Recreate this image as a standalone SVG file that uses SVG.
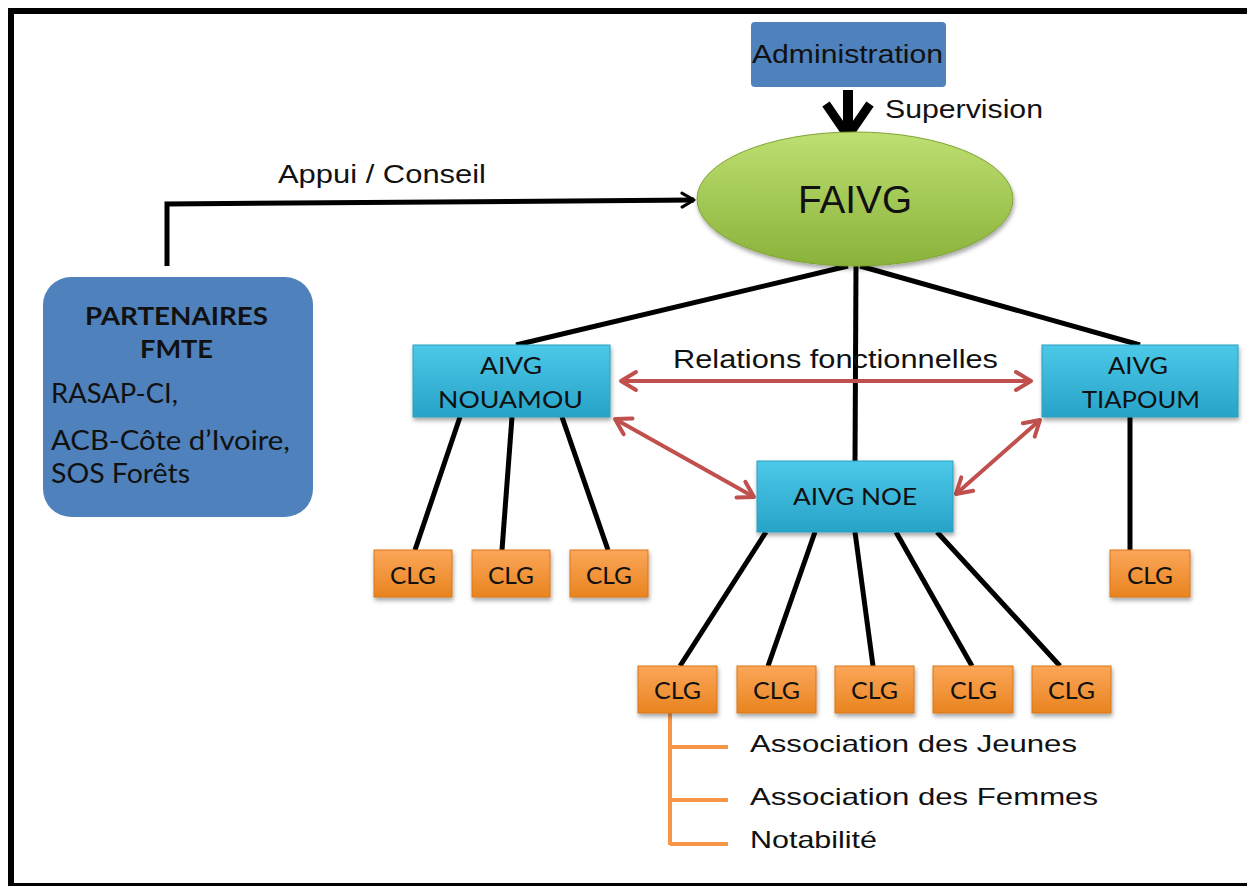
<svg xmlns="http://www.w3.org/2000/svg" width="1247" height="886" viewBox="0 0 1247 886">
<defs>
<linearGradient id="gCyan" x1="0" y1="0" x2="0" y2="1"><stop offset="0" stop-color="#4cc8e8"/><stop offset="1" stop-color="#27a3c8"/></linearGradient>
<linearGradient id="gOrange" x1="0" y1="0" x2="0" y2="1"><stop offset="0" stop-color="#fba659"/><stop offset="1" stop-color="#e9841f"/></linearGradient>
<linearGradient id="gGreen" x1="0" y1="0" x2="0" y2="1"><stop offset="0" stop-color="#bedf72"/><stop offset="1" stop-color="#8ab23a"/></linearGradient>
<filter id="sh" x="-10%" y="-10%" width="130%" height="140%"><feDropShadow dx="1" dy="3" stdDeviation="2" flood-color="#000" flood-opacity="0.35"/></filter>
<marker id="mRed" markerUnits="userSpaceOnUse" markerWidth="24" markerHeight="24" viewBox="0 0 24 24" refX="21" refY="12" orient="auto-start-reverse"><path d="M6,3 L21,12 L6,21" fill="none" stroke="#c0504d" stroke-width="4" stroke-linecap="round" stroke-linejoin="round"/></marker>
<marker id="mBlack" markerUnits="userSpaceOnUse" markerWidth="20" markerHeight="20" viewBox="0 0 20 20" refX="18" refY="10" orient="auto"><path d="M6,3 L18,10 L6,17" fill="none" stroke="#000" stroke-width="3" stroke-linecap="round" stroke-linejoin="round"/></marker>
</defs>
<style>
.t{font-family:"Liberation Sans",Arial,sans-serif;fill:#111;}
.c{font-family:Lato,"Open Sans",sans-serif;fill:#111;}
.cy{fill:url(#gCyan);stroke:#2b9fc0;stroke-width:1;filter:url(#sh);}
.or{fill:url(#gOrange);stroke:#d9761a;stroke-width:1;filter:url(#sh);}
.bl{stroke:#000;stroke-width:5;fill:none;}
.rd{stroke:#c0504d;stroke-width:4;fill:none;marker-start:url(#mRed);marker-end:url(#mRed);}
.og{stroke:#f79646;stroke-width:4;fill:none;}
</style>
<rect width="1247" height="886" fill="#fff"/>
<g id="frame" fill="#000">
<rect x="8" y="8" width="1239" height="6"/>
<rect x="8" y="8" width="6" height="878"/>
<rect x="8" y="883" width="1239" height="3"/>
</g>
<g id="connectors">
<polyline class="bl" points="167,266 167,204 694,200" marker-end="url(#mBlack)" stroke-width="4"/>
<path d="M848,90 L848,132" stroke="#000" stroke-width="10" fill="none"/>
<path d="M826,104 L848,136 L870,104" stroke="#000" stroke-width="9" fill="none" stroke-linejoin="miter"/>
<line class="bl" x1="848" y1="266" x2="516" y2="345"/>
<line class="bl" x1="856" y1="266" x2="855" y2="462"/>
<line class="bl" x1="860" y1="266" x2="1140" y2="345"/>
<line class="bl" x1="460" y1="417" x2="415" y2="550"/>
<line class="bl" x1="512" y1="417" x2="502" y2="550"/>
<line class="bl" x1="562" y1="417" x2="608" y2="550"/>
<line class="bl" x1="1130" y1="417" x2="1130" y2="550"/>
<line class="bl" x1="766" y1="532" x2="680" y2="666"/>
<line class="bl" x1="815" y1="532" x2="768" y2="666"/>
<line class="bl" x1="855" y1="532" x2="873" y2="666"/>
<line class="bl" x1="896" y1="532" x2="972" y2="666"/>
<line class="bl" x1="937" y1="532" x2="1060" y2="666"/>
<line class="rd" x1="621" y1="381" x2="1031" y2="381"/>
<line class="rd" x1="615" y1="419" x2="754" y2="497"/>
<line class="rd" x1="1040" y1="420" x2="956" y2="494"/>
<path class="og" d="M670,713 L670,845 M670,747 L728,747 M670,800 L728,800 M670,844 L728,844"/>
</g>
<g id="admin">
<rect x="751" y="22" width="195" height="65" rx="4" fill="#4f81bd"/>
<text class="t" x="752" y="63" font-size="26" textLength="191" lengthAdjust="spacingAndGlyphs">Administration</text>
</g>
<text class="t" x="885" y="118" font-size="25" textLength="158" lengthAdjust="spacingAndGlyphs">Supervision</text>
<text class="t" x="278" y="183" font-size="26" textLength="208" lengthAdjust="spacingAndGlyphs">Appui / Conseil</text>
<g id="faivg">
<ellipse cx="855" cy="199" rx="158" ry="67" fill="url(#gGreen)" stroke="#7fa535" stroke-width="1" filter="url(#sh)"/>
<text class="t" x="798" y="213" font-size="38" textLength="114" lengthAdjust="spacingAndGlyphs">FAIVG</text>
</g>
<g id="partenaires">
<rect x="43" y="277" width="270" height="240" rx="28" fill="#4f81bd"/>
<text class="c" x="85" y="325" font-size="24" font-weight="bold" textLength="183" lengthAdjust="spacingAndGlyphs">PARTENAIRES</text>
<text class="c" x="140" y="358" font-size="24" font-weight="bold" textLength="73" lengthAdjust="spacingAndGlyphs">FMTE</text>
<text class="c" x="51" y="403" font-size="26" textLength="127" lengthAdjust="spacingAndGlyphs">RASAP-CI,</text>
<text class="c" x="51" y="450" font-size="26" textLength="239" lengthAdjust="spacingAndGlyphs">ACB-Côte d’Ivoire,</text>
<text class="c" x="51" y="483" font-size="26" textLength="139" lengthAdjust="spacingAndGlyphs">SOS Forêts</text>
</g>
<g id="nouamou">
<rect class="cy" x="413" y="345" width="197" height="72"/>
<text class="c" x="480" y="374" font-size="24" textLength="62" lengthAdjust="spacingAndGlyphs">AIVG</text>
<text class="c" x="438" y="408" font-size="24" textLength="145" lengthAdjust="spacingAndGlyphs">NOUAMOU</text>
</g>
<g id="tiapoum">
<rect class="cy" x="1042" y="345" width="196" height="72"/>
<text class="c" x="1108" y="374" font-size="24" textLength="60" lengthAdjust="spacingAndGlyphs">AIVG</text>
<text class="c" x="1082" y="408" font-size="24" textLength="118" lengthAdjust="spacingAndGlyphs">TIAPOUM</text>
</g>
<g id="noe">
<rect class="cy" x="757" y="461" width="196" height="71"/>
<text class="c" x="793" y="505" font-size="24" textLength="124" lengthAdjust="spacingAndGlyphs">AIVG NOE</text>
</g>
<g id="relations">
<text class="t" x="673" y="368" font-size="25" textLength="325" lengthAdjust="spacingAndGlyphs">Relations fonctionnelles</text>
</g>
<g id="clg1"><rect class="or" x="374" y="550" width="78" height="47"/><text class="c" x="390" y="584" font-size="24" textLength="46" lengthAdjust="spacingAndGlyphs">CLG</text></g>
<g id="clg2"><rect class="or" x="472" y="550" width="78" height="47"/><text class="c" x="488" y="584" font-size="24" textLength="46" lengthAdjust="spacingAndGlyphs">CLG</text></g>
<g id="clg3"><rect class="or" x="570" y="550" width="78" height="47"/><text class="c" x="586" y="584" font-size="24" textLength="46" lengthAdjust="spacingAndGlyphs">CLG</text></g>
<g id="clg4"><rect class="or" x="1110" y="550" width="80" height="47"/><text class="c" x="1127" y="584" font-size="24" textLength="46" lengthAdjust="spacingAndGlyphs">CLG</text></g>
<g id="clg5"><rect class="or" x="638" y="666" width="79" height="47"/><text class="c" x="654" y="699" font-size="24" textLength="47" lengthAdjust="spacingAndGlyphs">CLG</text></g>
<g id="clg6"><rect class="or" x="737" y="666" width="79" height="47"/><text class="c" x="753" y="699" font-size="24" textLength="47" lengthAdjust="spacingAndGlyphs">CLG</text></g>
<g id="clg7"><rect class="or" x="835" y="666" width="79" height="47"/><text class="c" x="851" y="699" font-size="24" textLength="47" lengthAdjust="spacingAndGlyphs">CLG</text></g>
<g id="clg8"><rect class="or" x="933" y="666" width="80" height="47"/><text class="c" x="950" y="699" font-size="24" textLength="47" lengthAdjust="spacingAndGlyphs">CLG</text></g>
<g id="clg9"><rect class="or" x="1032" y="666" width="79" height="47"/><text class="c" x="1048" y="699" font-size="24" textLength="47" lengthAdjust="spacingAndGlyphs">CLG</text></g>
<g id="members">
<text class="t" x="750" y="752" font-size="24" textLength="327" lengthAdjust="spacingAndGlyphs">Association des Jeunes</text>
<text class="t" x="750" y="805" font-size="24" textLength="348" lengthAdjust="spacingAndGlyphs">Association des Femmes</text>
<text class="t" x="750" y="848" font-size="24" textLength="127" lengthAdjust="spacingAndGlyphs">Notabilité</text>
</g>
</svg>
